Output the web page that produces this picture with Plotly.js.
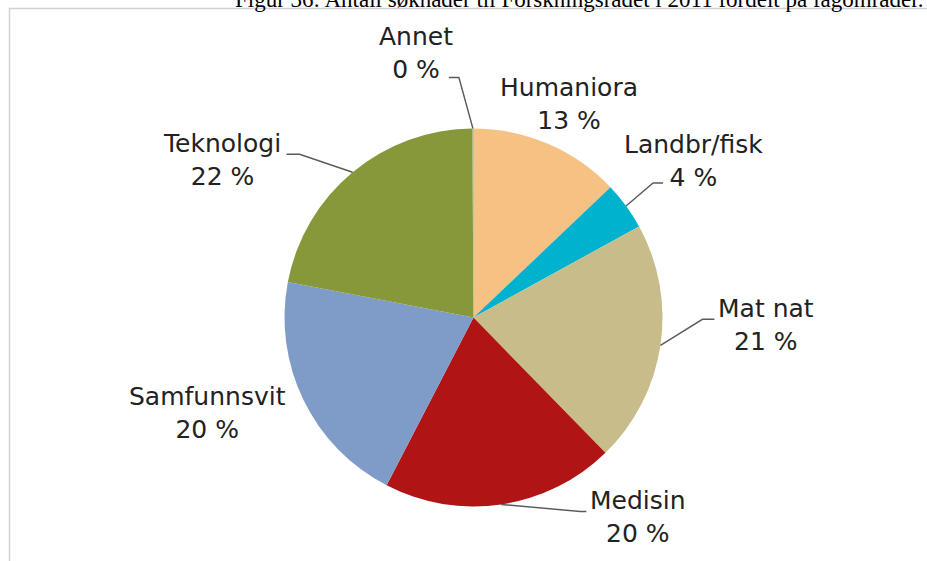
<!DOCTYPE html>
<html>
<head>
<meta charset="utf-8">
<script src="https://cdn.plot.ly/plotly-3.0.1.min.js"></script>
<style>html,body{margin:0;padding:0;background:#fff;overflow:hidden}#chart{width:927px;height:561px}</style>
</head>
<body>
<div id="chart"></div>
<script>
// ---- data ----
const categories = ["Humaniora", "Landbr/fisk", "Mat nat", "Medisin", "Samfunnsvit", "Teknologi", "Annet"];
const shares = [12.9, 4.1, 20.7, 19.9, 20.4, 21.9, 0.1];
const sliceColors = ["#F5C284", "#00B2CD", "#C8BD8A", "#B01414", "#7F9BC8", "#86983A", "#9BA86A"];
const figureTitle = "Figur 36: Antall søknader til Forskningsrådet i 2011 fordelt på fagområder.";

// ---- layout config ----
const W = 927, H = 561;
const cx = 473.5, cy = 317.5, R = 189;
// label centre offset from slice mid-point on rim (px)
const labelOffset = [[21,-40],[67,-45],[106,-20],[137,13],[-96,13],[-131,-12],[-57,-76]];
// leader: [stubEnd, elbow] offsets from label centre, null = none
const leaderOffset = [null, [[-30,22],[-40,22]], [[-52,-6],[-64,-6]], [[-52,-6],[-58,-6]], null, [[65,-6],[78,-6]], [[33,25],[43,25]]];

const px = x => x / W, py = y => 1 - y / H;
const total = shares.reduce((a,b)=>a+b,0);
let cum = 0;
const annotations = [], shapes = [];
shares.forEach((v,i) => {
  const mid = (cum + v/2) / total * 2 * Math.PI;
  cum += v;
  const ax = cx + R * Math.sin(mid), ay = cy - R * Math.cos(mid);
  const lx = ax + labelOffset[i][0], ly = ay + labelOffset[i][1];
  annotations.push({
    xref:'paper', yref:'paper', x: px(lx), y: py(ly), xanchor:'center', yanchor:'middle',
    showarrow:false, align:'center',
    text: categories[i] + '<br>' + Math.round(v) + ' %',
    font:{family:'DejaVu Sans, Verdana, sans-serif', size:25, color:'#222222'}
  });
  if (leaderOffset[i]) {
    const s = leaderOffset[i][0], e = leaderOffset[i][1];
    shapes.push({type:'path', xref:'paper', yref:'paper',
      path:`M ${px(lx+s[0])} ${py(ly+s[1])} L ${px(lx+e[0])} ${py(ly+e[1])} L ${px(ax)} ${py(ay)}`,
      line:{color:'#5a5a5a', width:1.4}});
  }
});
shapes.push({type:'rect', xref:'paper', yref:'paper', x0: px(9.5), x1: 1.05, y0: -0.05, y1: py(8.5),
  line:{color:'#d2d2d2', width:1.5}, fillcolor:'rgba(0,0,0,0)', layer:'below'});
annotations.push({xref:'paper', yref:'paper', x: px(233), y: py(-1), xanchor:'left', yanchor:'middle',
  showarrow:false, text: figureTitle, font:{family:'Liberation Serif, Times New Roman, serif', size:23, color:'#000'}});

const trace = {
  type:'pie', labels: categories, values: shares, sort:false, direction:'clockwise', rotation:0,
  marker:{colors: sliceColors, line:{width:0}}, textinfo:'none', hoverinfo:'label+percent',
  domain:{x:[px(cx-R), px(cx+R)], y:[py(cy+R), py(cy-R)]}, showlegend:false
};
Plotly.newPlot('chart', [trace], {
  width:W, height:H, margin:{l:0,r:0,t:0,b:0}, paper_bgcolor:'#fff', plot_bgcolor:'#fff',
  showlegend:false, annotations, shapes
}, {displayModeBar:false, staticPlot:true});
</script>
</body>
</html>
